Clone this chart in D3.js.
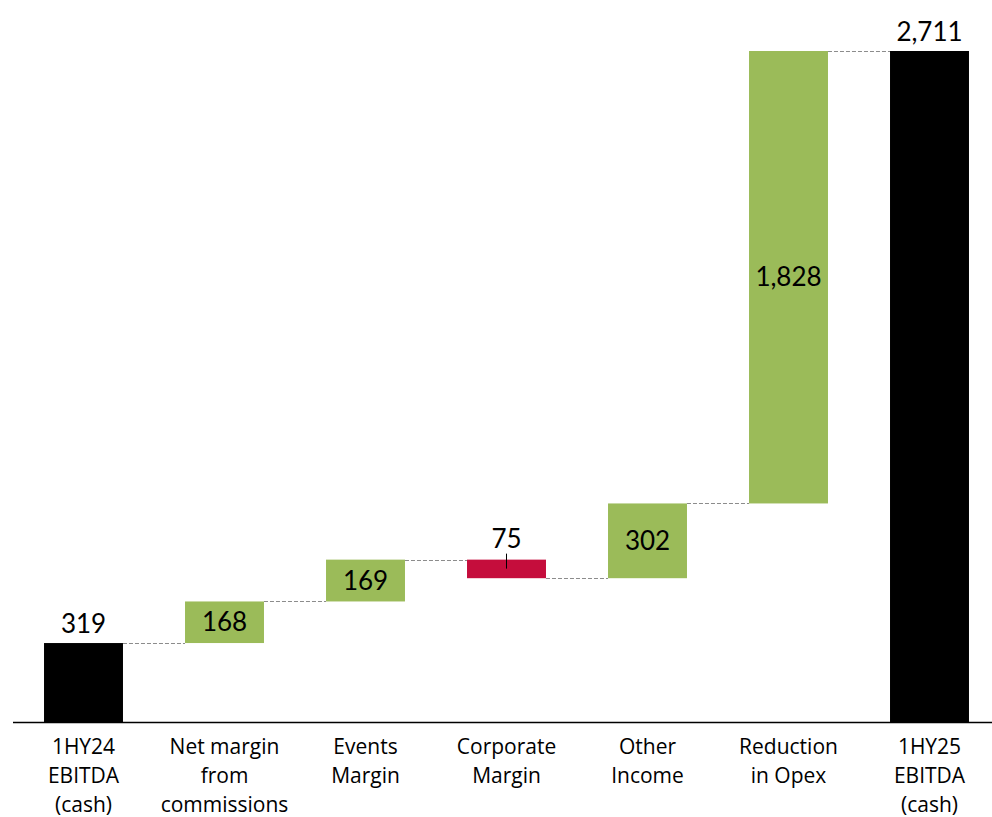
<!DOCTYPE html>
<html>
<head>
<meta charset="utf-8">
<script src="https://cdn.jsdelivr.net/npm/d3@7"></script>
<style>
  body { margin: 0; background: #fff; }
  svg text { font-family: Lato, "Open Sans", sans-serif; fill: #000; }
  svg text.cat { font-family: "Open Sans", Lato, sans-serif; }
</style>
</head>
<body>
<svg id="chart" width="992" height="817"></svg>
<script>
// waterfall data
var categories = [
    ["1HY24", "EBITDA", "(cash)"],
    ["Net margin", "from", "commissions"],
    ["Events", "Margin"],
    ["Corporate", "Margin"],
    ["Other", "Income"],
    ["Reduction", "in Opex"],
    ["1HY25", "EBITDA", "(cash)"]
];
var values = [319, 168, 169, -75, 302, 1828, 2711];
var kinds = ["total", "delta", "delta", "delta", "delta", "delta", "total"];

var width = 992,
    height = 817,
    baseY = 722,
    topY = 51;

var svg = d3.select("#chart");

// running totals -> start/end of each bar
var running = 0;
var bars = values.map(function(v, i) {
    var d = {i: i, value: v, kind: kinds[i]};
    if (kinds[i] === "total") {
        d.start = 0; d.end = v; running = v;
    } else {
        d.start = running; d.end = running + v; running = d.end;
    }
    return d;
});

var x = d3.scaleBand()
    .domain(d3.range(categories.length))
    .range([13, 13 + 141 * 7])
    .paddingInner(0.44)
    .paddingOuter(0.22);

var y = d3.scaleLinear()
    .domain([0, 2711])
    .range([baseY, topY]);

function color(d) {
    if (d.kind === "total") return "#000000";
    return d.value < 0 ? "#C50D3C" : "#9BBB59";
}

// connectors
var links = bars.slice(0, -1).map(function(d, i) {
    return {x1: x(i) + x.bandwidth(), x2: x(i + 1), level: d.end};
});
svg.selectAll("line.conn")
    .data(links)
    .enter().append("line")
    .attr("class", "conn")
    .attr("x1", function(d) { return d.x1; })
    .attr("x2", function(d) { return d.x2; })
    .attr("y1", function(d) { return Math.round(y(d.level)) + 0.5; })
    .attr("y2", function(d) { return Math.round(y(d.level)) + 0.5; })
    .style("stroke", "#8c8c8c")
    .style("stroke-width", 1)
    .style("stroke-dasharray", "4,2");

svg.selectAll("rect.bar")
    .data(bars)
    .enter().append("rect")
    .attr("class", "bar")
    .attr("x", function(d) { return x(d.i); })
    .attr("width", x.bandwidth())
    .attr("y", function(d) { return y(Math.max(d.start, d.end)); })
    .attr("height", function(d) { return Math.abs(y(d.start) - y(d.end)); })
    .style("fill", color);

// axis line
svg.append("line")
    .attr("x1", 13).attr("x2", width)
    .attr("y1", baseY + 0.5).attr("y2", baseY + 0.5)
    .style("stroke", "#000")
    .style("stroke-width", 1.5);

// value labels
var fmt = d3.format(",");
svg.selectAll("text.val")
    .data(bars)
    .enter().append("text")
    .attr("class", "val")
    .attr("text-anchor", "middle")
    .attr("x", function(d) { return x(d.i) + x.bandwidth() / 2; })
    .attr("y", function(d) {
        if (d.kind === "total") return y(d.end) - 10;
        if (d.value < 0) return y(d.start) - 12;
        return (y(d.start) + y(d.end)) / 2 + 9;
    })
    .style("font-size", "26px")
    .text(function(d) { return fmt(Math.abs(d.value)); });

// small leader tick on the negative bar
svg.selectAll("line.tick")
    .data(bars.filter(function(d) { return d.kind === "delta" && d.value < 0; }))
    .enter().append("line")
    .attr("class", "tick")
    .attr("x1", function(d) { return x(d.i) + x.bandwidth() / 2; })
    .attr("x2", function(d) { return x(d.i) + x.bandwidth() / 2; })
    .attr("y1", function(d) { return y(d.start) - 6; })
    .attr("y2", function(d) { return y(d.start) + 9; })
    .style("stroke", "#000")
    .style("stroke-width", 1);

// category labels
var cat = svg.selectAll("text.cat")
    .data(categories)
    .enter().append("text")
    .attr("class", "cat")
    .attr("text-anchor", "middle")
    .style("font-size", "21px");

cat.selectAll("tspan")
    .data(function(lines, i) { return lines.map(function(t) { return {t: t, i: i}; }); })
    .enter().append("tspan")
    .attr("x", function(d) { return x(d.i) + x.bandwidth() / 2; })
    .attr("y", function(d, j) { return 754 + j * 29; })
    .text(function(d) { return d.t; });
</script>
</body>
</html>
